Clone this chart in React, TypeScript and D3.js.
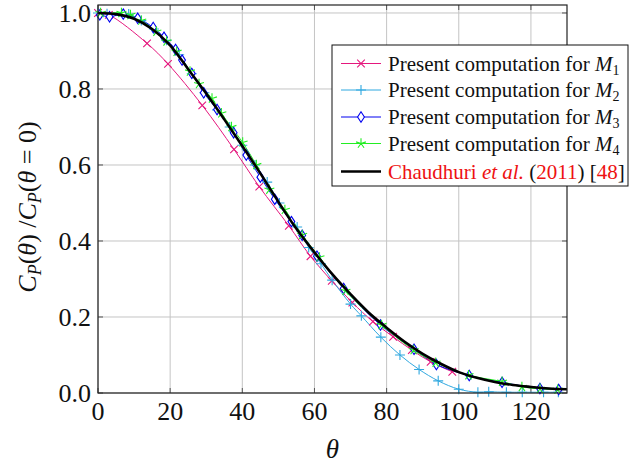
import React from "react";
import * as d3 from "d3";

// ---- data ----
const xTicks = [0, 20, 40, 60, 80, 100, 120];
const yTicks = [0, 0.2, 0.4, 0.6, 0.8, 1.0];

const chaudhuriTheta = [0, 5, 10, 15, 20, 25, 30, 35, 40, 45, 50, 55, 60, 65, 70, 75, 80, 85, 90, 95, 100, 105, 110, 115, 120, 125, 130];
const chaudhuriCp = [1.0, 0.997, 0.985, 0.958, 0.915, 0.852, 0.788, 0.72, 0.65, 0.578, 0.503, 0.432, 0.37, 0.312, 0.26, 0.212, 0.172, 0.135, 0.103, 0.077, 0.055, 0.04, 0.029, 0.021, 0.016, 0.012, 0.01];

const m1Theta = [0, 3, 13.6, 19.4, 28.9, 37.7, 44.7, 52.9, 58.9, 64.8, 70.5, 76.2, 81.8, 87, 92.2, 98.2];
const m1Cp = [1.0, 0.995, 0.92, 0.866, 0.757, 0.641, 0.543, 0.44, 0.36, 0.295, 0.238, 0.188, 0.148, 0.113, 0.082, 0.056];

const m2Theta = [0, 2.5, 8.5, 12, 15.5, 19, 22.5, 26, 29.5, 33, 36.5, 40, 43.5, 46.9, 50.3, 55.2, 58.4, 61.8, 64.9, 70, 73, 78.4, 83.7, 89, 94.3, 100, 105.3, 108.3, 113.2, 117.6, 123.5, 127.6];
const m2Cp = [1.0, 0.998, 0.997, 0.98, 0.958, 0.928, 0.89, 0.84, 0.79, 0.745, 0.7, 0.652, 0.6, 0.555, 0.5, 0.437, 0.383, 0.34, 0.297, 0.234, 0.203, 0.147, 0.1, 0.062, 0.032, 0.01, 0.002, 0.003, 0.002, 0.002, 0.002, 0.002];

const m3Theta = [0.5, 3.2, 7, 11, 15.3, 18.3, 21.5, 23.3, 26, 29.3, 33, 37.6, 41.1, 45, 49, 53.6, 56.6, 60.7, 68.1, 78.3, 87.6, 93.8, 102.9, 112, 122.5, 127.7];
const m3Cp = [0.995, 0.99, 0.997, 0.986, 0.962, 0.936, 0.904, 0.876, 0.841, 0.79, 0.746, 0.685, 0.626, 0.568, 0.51, 0.451, 0.415, 0.36, 0.275, 0.179, 0.115, 0.075, 0.046, 0.028, 0.012, 0.009];

const m4Theta = [0.7, 6.5, 9, 12, 16.2, 19, 21.8, 25.5, 28, 31.6, 34.2, 37, 40.1, 43.9, 47.5, 51.8, 56.6, 61.4, 68.6, 78.6, 87.5, 93.6, 102.7, 112, 117.5, 122.5, 127.4];
const m4Cp = [1.0, 1.0, 0.995, 0.98, 0.951, 0.925, 0.898, 0.846, 0.813, 0.775, 0.736, 0.7, 0.659, 0.6, 0.535, 0.482, 0.416, 0.357, 0.269, 0.179, 0.113, 0.08, 0.047, 0.03, 0.016, 0.011, 0.009];

const W = 636, H = 464;
const left = 98, right = 567, top = 5, bottom = 393;
const FONT = "'Liberation Serif', 'Times New Roman', serif";

const x = d3.scaleLinear().domain([0, 130]).range([left, right]);
const y = d3.scaleLinear().domain([0, 1.021]).range([bottom, top]);

const pinkC = "#e5177d";
const cyanC = "#2fa8e0";
const blueC = "#0000f0";
const greenC = "#22ee22";

function zip(a: number[], b: number[]): [number, number][] {
  return a.map((t, i) => [t, b[i]]);
}

const line = d3
  .line<[number, number]>()
  .x((d) => x(d[0]))
  .y((d) => y(d[1]))
  .curve(d3.curveCatmullRom.alpha(0.5));

function Marker({ kind, cx, cy, color }: { kind: string; cx: number; cy: number; color: string }) {
  if (kind === "x") {
    const s = 3.8;
    return (
      <path d={`M${cx - s},${cy - s}L${cx + s},${cy + s}M${cx - s},${cy + s}L${cx + s},${cy - s}`} stroke={color} strokeWidth={1.1} fill="none" />
    );
  }
  if (kind === "+") {
    const s = 5;
    return <path d={`M${cx - s},${cy}L${cx + s},${cy}M${cx},${cy - s}L${cx},${cy + s}`} stroke={color} strokeWidth={1.1} fill="none" />;
  }
  if (kind === "d") {
    const w = 3.4, h = 5.2;
    return <path d={`M${cx},${cy - h}L${cx + w},${cy}L${cx},${cy + h}L${cx - w},${cy}Z`} stroke={color} strokeWidth={1.1} fill="white" />;
  }
  // star (5 arms)
  const s = 5.2;
  let d = "";
  for (let k = 0; k < 5; k++) {
    const a = -Math.PI / 2 + (k * 2 * Math.PI) / 5;
    d += `M${cx},${cy}L${cx + s * Math.cos(a)},${cy + s * Math.sin(a)}`;
  }
  return <path d={d} stroke={color} strokeWidth={1.1} fill="none" />;
}

const series = [
  { name: "M1", sub: "1", theta: m1Theta, cp: m1Cp, color: pinkC, kind: "x" },
  { name: "M2", sub: "2", theta: m2Theta, cp: m2Cp, color: cyanC, kind: "+" },
  { name: "M3", sub: "3", theta: m3Theta, cp: m3Cp, color: blueC, kind: "d" },
  { name: "M4", sub: "4", theta: m4Theta, cp: m4Cp, color: greenC, kind: "*" },
];

export default function App() {
  const legX = 332, legY = 45, legW = 296, legH = 141;
  const rowY = [63.5, 90, 117, 143.5, 171.5];
  return (
    <svg width={W} height={H} style={{ position: "absolute", left: 0, top: 0, background: "white" }} fontFamily={FONT}>
      <rect x={0} y={0} width={W} height={H} fill="white" />
      <defs>
        <clipPath id="plotclip">
          <rect x={left} y={top} width={right - left} height={bottom - top} />
        </clipPath>
      </defs>
      {/* grid */}
      {xTicks.map((t) => (
        <line key={"gx" + t} x1={x(t)} x2={x(t)} y1={top} y2={bottom} stroke="#c4c4c4" strokeWidth={1} />
      ))}
      {yTicks.map((t) => (
        <line key={"gy" + t} x1={left} x2={right} y1={y(t)} y2={y(t)} stroke="#c4c4c4" strokeWidth={1} />
      ))}
      {/* ticks inward */}
      {xTicks.map((t) => (
        <g key={"tx" + t}>
          <line x1={x(t)} x2={x(t)} y1={bottom} y2={bottom - 5} stroke="#555" strokeWidth={1} />
          <line x1={x(t)} x2={x(t)} y1={top} y2={top + 5} stroke="#555" strokeWidth={1} />
        </g>
      ))}
      {yTicks.map((t) => (
        <g key={"ty" + t}>
          <line x1={left} x2={left + 5} y1={y(t)} y2={y(t)} stroke="#555" strokeWidth={1} />
          <line x1={right} x2={right - 5} y1={y(t)} y2={y(t)} stroke="#555" strokeWidth={1} />
        </g>
      ))}
      {/* series */}
      <g clipPath="url(#plotclip)">
        {series.map((s) => (
          <path key={s.name} d={line(zip(s.theta, s.cp)) || ""} stroke={s.color} strokeWidth={1} fill="none" />
        ))}
      </g>
      {series.map((s) => (
        <g key={s.name + "m"}>
          {s.theta.map((t, i) => (
            <Marker key={i} kind={s.kind} cx={x(t)} cy={y(s.cp[i])} color={s.color} />
          ))}
        </g>
      ))}
      <path d={line(zip(chaudhuriTheta, chaudhuriCp)) || ""} stroke="black" strokeWidth={2.6} fill="none" clipPath="url(#plotclip)" />
      {/* frame */}
      <rect x={left} y={top} width={right - left} height={bottom - top} fill="none" stroke="#222" strokeWidth={1.2} />
      {/* tick labels */}
      {xTicks.map((t) => (
        <text key={"lx" + t} x={x(t)} y={bottom + 27} fontSize={26} textAnchor="middle" fill="#111">
          {t}
        </text>
      ))}
      {yTicks.map((t) => (
        <text key={"ly" + t} x={left - 7} y={y(t) + 9} fontSize={26} textAnchor="end" fill="#111">
          {t.toFixed(1)}
        </text>
      ))}
      {/* axis labels */}
      <text x={(left + right) / 2} y={458} fontSize={27} textAnchor="middle" fontStyle="italic" fill="#111">
        θ
      </text>
      <text transform={`translate(36,${(top + bottom) / 2 + 8}) rotate(-90)`} fontSize={26} textAnchor="middle" fill="#111">
        <tspan fontStyle="italic">C</tspan>
        <tspan fontStyle="italic" fontSize={18} dy={5}>P</tspan>
        <tspan dy={-5}>(</tspan>
        <tspan fontStyle="italic">θ</tspan>
        <tspan>) /</tspan>
        <tspan fontStyle="italic">C</tspan>
        <tspan fontStyle="italic" fontSize={18} dy={5}>P</tspan>
        <tspan dy={-5}>(</tspan>
        <tspan fontStyle="italic">θ</tspan>
        <tspan> = 0)</tspan>
      </text>
      {/* legend */}
      <rect x={legX} y={legY} width={legW} height={legH} fill="white" stroke="#111" strokeWidth={1} />
      {series.map((s, i) => (
        <g key={s.name + "l"}>
          <line x1={341} x2={381} y1={rowY[i]} y2={rowY[i]} stroke={s.color} strokeWidth={1} />
          <Marker kind={s.kind} cx={361} cy={rowY[i]} color={s.color} />
          <text x={388} y={rowY[i] + 7} fontSize={21} fill="#111">
            Present computation for <tspan fontStyle="italic">M</tspan>
            <tspan fontSize={14} dy={4}>{s.sub}</tspan>
          </text>
        </g>
      ))}
      <line x1={341} x2={381} y1={rowY[4]} y2={rowY[4]} stroke="black" strokeWidth={2.6} />
      <text x={388} y={rowY[4] + 7} fontSize={21} fill="#111">
        <tspan fill="#ee1111">Chaudhuri </tspan>
        <tspan fill="#ee1111" fontStyle="italic">et al.</tspan>
        <tspan> (</tspan>
        <tspan fill="#ee1111">2011</tspan>
        <tspan>) [</tspan>
        <tspan fill="#ee1111">48</tspan>
        <tspan>]</tspan>
      </text>
    </svg>
  );
}
